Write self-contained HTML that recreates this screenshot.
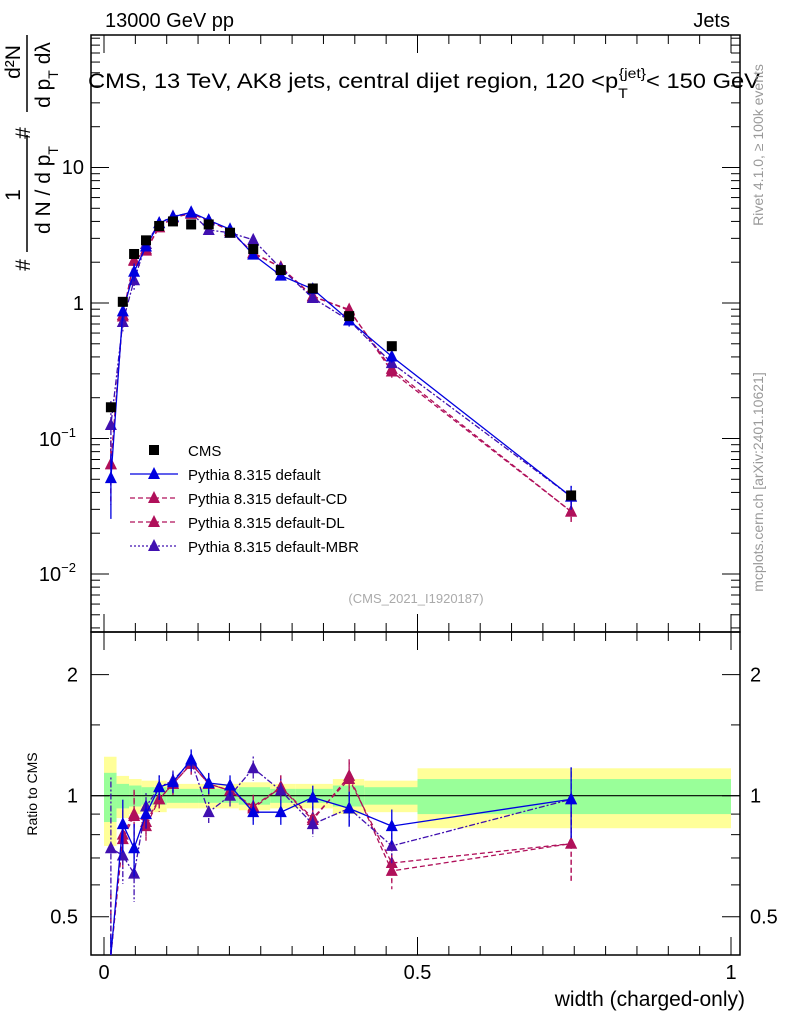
<!DOCTYPE html>
<html><head><meta charset="utf-8"><style>
body{margin:0;background:#fff;}
svg{font-family:"Liberation Sans",sans-serif;}
</style></head><body>
<svg id="c" width="786" height="1024" xmlns="http://www.w3.org/2000/svg">
<g id="bands"></g>
<g id="grid"></g>
<rect x="91" y="35" width="649" height="597" fill="none" stroke="#000" stroke-width="1.5"/>
<rect x="91" y="632" width="649" height="323" fill="none" stroke="#000" stroke-width="1.5"/>
<g id="ticks"></g>
<g id="series"></g>
<text x="105" y="27" font-size="20">13000 GeV pp</text>
<text x="730" y="27" font-size="20" text-anchor="end">Jets</text>
<text x="88" y="88" font-size="21" textLength="672" lengthAdjust="spacingAndGlyphs">CMS, 13 TeV, AK8 jets, central dijet region, 120 &lt;p<tspan font-size="14" dy="10">T</tspan><tspan font-size="14" dy="-20" dx="-8">{jet}</tspan><tspan dy="10">&lt; 150 GeV</tspan></text>
<text x="416" y="603" font-size="13" fill="#aaa" text-anchor="middle">(CMS_2021_I1920187)</text>
<g font-size="21">
<text transform="translate(30,265) rotate(-90)" text-anchor="middle">#</text>
<text transform="translate(20,195) rotate(-90)" text-anchor="middle">1</text>
<line x1="27" x2="27" y1="135" y2="252" stroke="#000" stroke-width="1.5"/>
<text transform="translate(50,190) rotate(-90)" text-anchor="middle">d N / d p<tspan font-size="14" dy="8">T</tspan></text>
<text transform="translate(30,133) rotate(-90)" text-anchor="middle">#</text>
<text transform="translate(20,62) rotate(-90)" text-anchor="middle">d²N</text>
<line x1="27" x2="27" y1="35" y2="112" stroke="#000" stroke-width="1.5"/>
<text transform="translate(50,75) rotate(-90)" text-anchor="middle">d p<tspan font-size="14" dy="8">T</tspan><tspan dy="-8"> dλ</tspan></text>
</g>
<text transform="translate(37,794) rotate(-90)" font-size="14" text-anchor="middle">Ratio to CMS</text>
<text x="745" y="1006" font-size="21" text-anchor="end">width (charged-only)</text>
<text transform="translate(763,145) rotate(-90)" font-size="14" fill="#999" text-anchor="middle">Rivet 4.1.0, ≥ 100k events</text>
<text transform="translate(763,482) rotate(-90)" font-size="14" fill="#999" text-anchor="middle">mcplots.cern.ch [arXiv:2401.10621]</text>
<g id="legend"></g>
</svg>
<script>
const xs=[0.011,0.030,0.048,0.067,0.088,0.110,0.139,0.167,0.201,0.238,0.282,0.333,0.391,0.459,0.745];
const edges=[0,0.02,0.04,0.06,0.08,0.1,0.13,0.15,0.185,0.215,0.265,0.305,0.365,0.415,0.5,1.0];
const cms=[0.17,1.02,2.3,2.9,3.7,4.0,3.8,3.8,3.3,2.5,1.75,1.28,0.8,0.48,0.038];
const bandYellow=[0.25,0.12,0.1,0.09,0.09,0.07,0.07,0.07,0.07,0.08,0.07,0.07,0.1,0.09,0.17];
const bandGreen=[0.14,0.07,0.06,0.05,0.05,0.04,0.04,0.04,0.04,0.05,0.04,0.04,0.06,0.05,0.1];
const rDefault=[0.3,0.85,0.74,0.9,1.05,1.08,1.23,1.075,1.06,0.91,0.91,0.99,0.93,0.84,0.98];
const rCD=[0.38,0.78,0.89,0.84,0.98,1.07,1.2,1.07,1.03,0.93,1.05,0.87,1.12,0.65,0.76];
const rDL=[0.38,0.80,0.9,0.86,0.98,1.07,1.2,1.07,1.03,0.94,1.05,0.88,1.1,0.68,0.76];
const rMBR=[0.74,0.71,0.64,0.94,1.05,1.09,1.22,0.91,1.0,1.17,1.03,0.85,0.93,0.75,0.98];
const errR=[0.5,0.15,0.15,0.08,0.07,0.06,0.06,0.06,0.06,0.07,0.07,0.07,0.1,0.1,0.2];
const NS='http://www.w3.org/2000/svg';
const X=v=>104+627*v, Y=v=>303-135.5*Math.log10(v), R=v=>795.7-402*Math.log10(v);
function mk(p,t,a){const e=document.createElementNS(NS,t);for(const k in a)e.setAttribute(k,a[k]);document.getElementById(p).appendChild(e);return e;}
const clipR=v=>Math.min(Math.max(v,632),955), clipT=v=>Math.min(Math.max(v,35),632);
for(let i=0;i<15;i++){
 let b=mk('bands','rect',{x:X(edges[i]),width:X(edges[i+1])-X(edges[i]),y:R(1+bandYellow[i]),height:R(1-bandYellow[i])-R(1+bandYellow[i]),fill:'#ffff99'});
 
 
 let g=mk('bands','rect',{x:X(edges[i]),width:X(edges[i+1])-X(edges[i]),y:R(1+bandGreen[i]),height:R(1-bandGreen[i])-R(1+bandGreen[i]),fill:'#99ff99'});
 
 
}
let ul=mk('grid','line',{x1:91,x2:740,y1:R(1),y2:R(1),stroke:'#000','stroke-width':1.2});


function tk(x1,y1,x2,y2){mk('ticks','line',{x1,y1,x2,y2,stroke:'#000','stroke-width':1});}
function lbl(x,y,s,anchor,size){const t=mk('ticks','text',{x,y,'font-size':size||20,'text-anchor':anchor||'end'});t.textContent=s;return t;}
for(let d=-3;d<=1;d++)for(let m=1;m<10;m++){const v=m*Math.pow(10,d);const y=Y(v);if(y<35||y>632)continue;const L=m==1?18:9;tk(91,y,91+L,y);tk(740,y,740-L,y);}
lbl(84,174,'10');lbl(84,310,'1');
const t1=lbl(76,446,'10');const s1=mk('ticks','tspan',{'font-size':13,dy:-9});s1.textContent='−1';t1.appendChild(s1);
const t2=lbl(76,581,'10');const s2=mk('ticks','tspan',{'font-size':13,dy:-9});s2.textContent='−2';t2.appendChild(s2);
for(let i=0;i<=20;i++){const v=i*0.05;const x=X(v);const L=i%10==0?18:9;tk(x,632,x,632-L);tk(x,35,x,35+L);tk(x,955,x,955-L);tk(x,632,x,632+L);}
[0.4,0.5,0.6,0.7,0.8,0.9,1,1.5,2].forEach(v=>{const y=R(v);if(y<632||y>955)return;const L=(v==0.5||v==1||v==2)?18:9;tk(91,y,91+L,y);tk(740,y,740-L,y);});
[[2,'2'],[1,'1'],[0.5,'0.5']].forEach(([v,s])=>{lbl(78,R(v)+7,s);lbl(750,R(v)+7,s,'start');});
lbl(X(0),979,'0','middle');lbl(X(0.5),979,'0.5','middle');lbl(X(1),979,'1','middle');
function tri(x,y,c,name){const p=mk('series','polygon',{points:`${x-6},${y+5} ${x+6},${y+5} ${x},${y-7}`,fill:c});}
function series(r,c,dash,name,ox){
 const tp=[],bp=[];
 for(let i=0;i<15;i++){const x=X(xs[i])+ox;const v=cms[i]*r[i];tp.push([x,Y(v)]);bp.push([x,R(r[i])]);}
 let l=mk('series','polyline',{points:tp.map(p=>p.join(',')).join(' '),fill:'none',stroke:c,'stroke-width':1.3,'stroke-dasharray':dash});
 
 
 let l2=mk('series','polyline',{points:bp.map(p=>[p[0],clipR(p[1])].join(',')).join(' '),fill:'none',stroke:c,'stroke-width':1.3,'stroke-dasharray':dash});
 
 
 for(let i=0;i<15;i++){
  const e=errR[i];const x=tp[i][0];
  const v=cms[i]*r[i];
  mk('series','line',{x1:x,x2:x,y1:clipT(Y(v*(1+e))),y2:clipT(Y(Math.max(v*(1-e),1e-3))),stroke:c,'stroke-width':1.3,'stroke-dasharray':dash});
  mk('series','line',{x1:x,x2:x,y1:clipR(R(r[i]*(1+e))),y2:clipR(R(Math.max(r[i]*(1-e),0.1))),stroke:c,'stroke-width':1.3,'stroke-dasharray':dash});
  tri(x,tp[i][1],c,name+'-point');
  if(bp[i][1]<955)tri(x,bp[i][1],c,name+'-ratio-point');
 }
}
series(rCD,'#b0105a','5,3','pythia-cd',0);
series(rDL,'#b0105a','5,3','pythia-dl',0);
series(rMBR,'#4010b0','2,2,6,2','pythia-mbr',0);
series(rDefault,'#0000e0','','pythia-default',0);
for(let i=0;i<15;i++){const x=X(xs[i]),y=Y(cms[i]);const s=mk('series','rect',{x:x-5,y:y-5,width:10,height:10,fill:'#000'});}
const leg=[['CMS','#000',null],['Pythia 8.315 default','#0000e0',''],['Pythia 8.315 default-CD','#b0105a','5,3'],['Pythia 8.315 default-DL','#b0105a','5,3'],['Pythia 8.315 default-MBR','#4010b0','2,2']];
leg.forEach((L,i)=>{const y=450+24*i;
 if(L[2]===null){mk('legend','rect',{x:149,y:y-5,width:10,height:10,fill:'#000'});}
 else{mk('legend','line',{x1:130,x2:178,y1:y,y2:y,stroke:L[1],'stroke-width':1.3,'stroke-dasharray':L[2]});mk('legend','polygon',{points:`${148},${y+5} ${160},${y+5} ${154},${y-7}`,fill:L[1]});}
 const t=mk('legend','text',{x:188,y:y+6,'font-size':15});t.textContent=L[0];
 
 
});
</script>
</body></html>
